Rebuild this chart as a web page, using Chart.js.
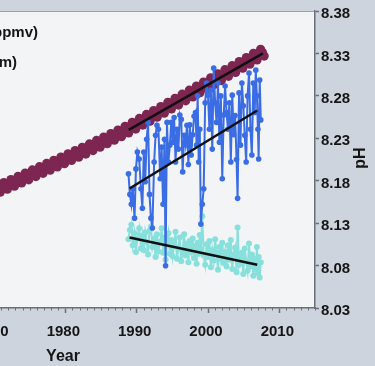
<!DOCTYPE html>
<html>
<head>
<meta charset="utf-8">
<script src="https://cdn.jsdelivr.net/npm/chart.js@4.4.1/dist/chart.umd.min.js"></script>
<style>
  html, body { margin: 0; padding: 0; overflow: hidden; background: #cdd4de; }
  #wrap { position: relative; width: 375px; height: 366px; overflow: hidden; }
  #chart { position: absolute; left: -40px; top: 0; }
</style>
</head>
<body>
<div id="wrap"><canvas id="chart" width="415" height="366"></canvas></div>
<script>
// the picture is a crop, so the canvas sticks out 40px to the left
const OFFSET = 40;

const yearTicks = [1970, 1980, 1990, 2000, 2010];
const phTicks = [8.03, 8.08, 8.13, 8.18, 8.23, 8.28, 8.33, 8.38];

// Mauna Loa CO2 (ppmv), four values a year starting 1970
const co2StartYear = 1970;
const co2Quarterly = [
  [327.8, 329.5, 328.3, 326.8], [329.0, 330.7, 329.5, 328.0], [330.2, 331.9, 330.7, 329.2],
  [331.5, 333.2, 332.0, 330.5], [332.8, 334.5, 333.3, 331.8], [334.1, 335.8, 334.6, 333.1],
  [335.4, 337.1, 335.9, 334.4], [336.7, 338.4, 337.2, 335.7], [338.0, 339.7, 338.5, 337.0],
  [339.3, 341.0, 339.8, 338.3], [340.6, 342.3, 341.1, 339.6], [341.9, 343.6, 342.4, 340.9],
  [343.2, 344.9, 343.7, 342.2], [344.6, 346.3, 345.1, 343.6], [346.0, 347.7, 346.5, 345.0],
  [347.4, 349.1, 347.9, 346.4], [348.8, 350.5, 349.3, 347.8], [350.2, 351.9, 350.7, 349.2],
  [351.7, 353.4, 352.2, 350.7], [353.3, 355.0, 353.8, 352.3], [354.9, 356.6, 355.4, 353.9],
  [356.5, 358.2, 357.0, 355.5], [358.1, 359.8, 358.6, 357.1], [359.7, 361.4, 360.2, 358.7],
  [361.4, 363.1, 361.9, 360.4], [363.0, 364.7, 363.5, 362.0], [364.7, 366.4, 365.2, 363.7],
  [366.3, 368.0, 366.8, 365.3], [368.0, 369.7, 368.5, 367.0], [369.6, 371.3, 370.1, 368.6],
  [371.3, 373.0, 371.8, 370.3], [372.9, 374.6, 373.4, 371.9], [374.6, 376.3, 375.1, 373.6],
  [376.2, 377.9, 376.7, 375.2], [377.9, 379.6, 378.4, 376.9], [379.5, 381.2, 380.0, 378.5],
  [381.2, 382.9, 381.7, 380.2], [382.8, 384.5, 383.3, 381.8],
];

// ALOHA cruises: seawater pCO2 (uatm) and pH share the sample times
const hotYears = [
  1988.85, 1989.05, 1989.25, 1989.45, 1989.7, 1989.9, 1990.1, 1990.35, 1990.6, 1990.8,
  1991.0, 1991.2, 1991.4, 1991.6, 1991.8, 1992.0, 1992.2, 1992.45, 1992.65,
  1992.85, 1993.05, 1993.3, 1993.5, 1993.7, 1993.9, 1994.05, 1994.25, 1994.45, 1994.65,
  1994.85, 1995.05, 1995.25, 1995.45, 1995.65, 1995.85, 1996.05, 1996.25, 1996.45, 1996.65,
  1996.85, 1997.05, 1997.25, 1997.45, 1997.65, 1997.85, 1998.05,
  1998.25, 1998.4, 1998.55, 1998.7, 1998.85, 1999.0, 1999.2, 1999.4, 1999.6, 1999.8,
  2000.0, 2000.2, 2000.4, 2000.6, 2000.8, 2001.0, 2001.2, 2001.4, 2001.6, 2001.8, 2002.0, 2002.2,
  2002.4, 2002.6, 2002.8, 2003.0, 2003.2, 2003.4, 2003.6, 2003.8, 2004.0, 2004.15, 2004.35, 2004.55,
  2004.75, 2004.95, 2005.15, 2005.35, 2005.55, 2005.75, 2005.95, 2006.15, 2006.35, 2006.55,
  2006.7, 2006.85, 2007.0, 2007.1, 2007.25, 2007.4,
];
const hotPco2 = [
  334.2, 325.9, 321.9, 328.2, 316.3, 336.2, 343.0, 340.2, 328.2, 320.3,
  343.0, 331.0, 348.2, 355.0, 325.9, 316.3, 312.3, 339.0, 349.8,
  353.8, 352.2, 332.2, 345.0, 321.9, 348.2, 297.1, 355.0, 339.0, 345.8,
  355.0, 347.0, 357.0, 339.0, 352.2, 344.2, 358.0, 356.2, 335.0, 349.8,
  346.0, 353.8, 338.0, 354.0, 341.8, 350.0, 357.5,
  359.0, 345.8, 365.7, 339.0, 352.2, 313.9, 321.9, 328.2, 362.9, 370.9,
  366.0, 352.2, 368.1, 344.2, 376.9, 362.9, 355.0, 370.9, 347.0, 365.7, 332.2, 358.0,
  369.7, 359.0, 352.2, 362.9, 339.0, 366.0, 350.0, 357.8, 340.0, 324.3, 366.9, 345.8,
  370.9, 361.7, 349.8, 339.0, 365.7, 374.9, 352.2, 341.8, 370.9, 359.0,
  376.1, 365.7, 352.2, 340.2, 372.1, 356.0,
];
const hotPh = [
  8.111, 8.122, 8.128, 8.104, 8.118, 8.096, 8.112, 8.124, 8.100, 8.115,
  8.098, 8.119, 8.108, 8.093, 8.121, 8.126, 8.102, 8.112, 8.090,
  8.117, 8.097, 8.108, 8.124, 8.095, 8.113, 8.087, 8.106, 8.118, 8.094,
  8.110, 8.091, 8.104, 8.120, 8.088, 8.101, 8.113, 8.085, 8.097, 8.117,
  8.092, 8.106, 8.084, 8.109, 8.096, 8.112, 8.089,
  8.103, 8.082, 8.107, 8.094, 8.116, 8.099, 8.138, 8.092, 8.081, 8.105,
  8.090, 8.109, 8.078, 8.098, 8.086, 8.111, 8.095, 8.075, 8.102, 8.088, 8.107, 8.083,
  8.096, 8.079, 8.104, 8.087, 8.110, 8.076, 8.093, 8.101, 8.072, 8.125, 8.081, 8.089,
  8.095, 8.070, 8.100, 8.085, 8.074, 8.106, 8.079, 8.093, 8.068, 8.088,
  8.076, 8.102, 8.071, 8.090, 8.066, 8.084,
];

// straight-line fits (end points)
const co2TrendYears = [1988.9, 2007.7];
const co2Trend = [352.0, 382.9];
const pco2TrendYears = [1989.0, 2006.9];
const pco2Trend = [328.3, 359.8];
const phTrendYears = [1989.0, 2006.9];
const phTrend = [8.113, 8.081];

const co2Points = [];
co2Quarterly.forEach((row, i) => {
  row.forEach((v, q) => co2Points.push({ x: co2StartYear + i + q * 0.25 + 0.125, y: v }));
});
const pairs = (xs, ys) => xs.map((x, i) => ({ x: x, y: ys[i] }));

const family = '"Liberation Sans", Arial, sans-serif';
const axisColor = '#6b6f76';

const decor = {
  id: 'decor',
  beforeDraw(chart) {
    const { ctx, chartArea: a } = chart;
    ctx.save();
    ctx.fillStyle = '#f3f4f6';
    ctx.fillRect(a.left, a.top, a.right - a.left, a.bottom - a.top);
    ctx.strokeStyle = '#9ea3aa';
    ctx.lineWidth = 1;
    ctx.beginPath();
    ctx.moveTo(a.left, a.top + 0.5);
    ctx.lineTo(a.right, a.top + 0.5);
    ctx.stroke();
    ctx.restore();
  },
  afterDraw(chart) {
    const { ctx, chartArea: a } = chart;
    const xs = chart.scales.x;
    ctx.save();
    // minor year ticks
    ctx.strokeStyle = axisColor;
    ctx.lineWidth = 1;
    for (let yr = 1970; yr <= 2015; yr++) {
      if (yr % 10 === 0) continue;
      const px = Math.round(xs.getPixelForValue(yr)) + 0.5;
      ctx.beginPath();
      ctx.moveTo(px, a.bottom);
      ctx.lineTo(px, a.bottom + 2.5);
      ctx.stroke();
    }
    // legend entries (cut off on the left) and axis titles
    ctx.fillStyle = '#151515';
    ctx.font = 'bold 15px ' + family;
    ctx.textBaseline = 'middle';
    ctx.textAlign = 'right';
    ctx.fillText('Mauna Loa CO₂ (ppmv)', OFFSET + 38, 33);
    ctx.fillText('ALOHA pCO₂ (µatm)', OFFSET + 17, 63);
    ctx.textAlign = 'center';
    ctx.font = 'bold 16px ' + family;
    ctx.fillText('Year', OFFSET + 63, 357);
    ctx.translate(OFFSET + 361, 158);
    ctx.rotate(-Math.PI / 2);
    ctx.fillText('pH', 0, 0);
    ctx.restore();
  },
};

new Chart(document.getElementById('chart'), {
  type: 'scatter',
  data: {
    datasets: [
      {
        data: pairs(co2TrendYears, co2Trend), yAxisID: 'y',
        showLine: true, borderColor: '#111', borderWidth: 2.5, pointRadius: 0,
      },
      {
        data: pairs(pco2TrendYears, pco2Trend), yAxisID: 'y',
        showLine: true, borderColor: '#111', borderWidth: 2.5, pointRadius: 0,
      },
      {
        data: pairs(phTrendYears, phTrend), yAxisID: 'ph',
        showLine: true, borderColor: '#111', borderWidth: 2.5, pointRadius: 0,
      },
      {
        data: pairs(hotYears, hotPco2), yAxisID: 'y',
        showLine: true, borderColor: '#3a6ce4', borderWidth: 2,
        pointRadius: 2.8, pointBackgroundColor: '#3a6ce4', pointBorderWidth: 0,
      },
      {
        data: pairs(hotYears, hotPh), yAxisID: 'ph',
        showLine: true, borderColor: '#88e0dc', borderWidth: 2,
        pointRadius: 3, pointBackgroundColor: '#88e0dc', pointBorderWidth: 0,
      },
      {
        data: co2Points, yAxisID: 'y',
        showLine: false, pointRadius: 4.6,
        pointBackgroundColor: '#7d2651', pointBorderWidth: 0,
      },
    ],
  },
  options: {
    responsive: false,
    animation: false,
    layout: { padding: { left: OFFSET - 6, top: 7, right: 0, bottom: 0 } },
    plugins: { legend: { display: false }, tooltip: { enabled: false } },
    scales: {
      x: {
        type: 'linear', min: 1970, max: 2015,
        afterBuildTicks: (s) => { s.ticks = yearTicks.map((v) => ({ value: v })); },
        afterFit: (s) => { s.height = 58; },
        border: { color: axisColor, width: 1.5 },
        grid: { drawOnChartArea: false, tickLength: 5, tickColor: axisColor, tickWidth: 1.5 },
        ticks: {
          font: { family: family, size: 15, weight: 'bold' },
          color: '#151515', padding: 10, maxRotation: 0, autoSkip: false, labelOffset: -2,
          callback: (v) => String(v),
        },
      },
      y: { type: 'linear', min: 280, max: 400, display: false },
      ph: {
        type: 'linear', position: 'right', min: 8.03, max: 8.38,
        afterBuildTicks: (s) => { s.ticks = phTicks.map((v) => ({ value: v })); },
        afterFit: (s) => { s.width = 60; },
        border: { color: axisColor, width: 1.5 },
        grid: { drawOnChartArea: false, tickLength: 4, tickColor: axisColor, tickWidth: 1.5 },
        ticks: {
          font: { family: family, size: 15, weight: 'bold' },
          color: '#151515', padding: 2, autoSkip: false, labelOffset: 3,
          callback: (v) => v.toFixed(2),
        },
      },
    },
  },
  plugins: [decor],
});
</script>
</body>
</html>
